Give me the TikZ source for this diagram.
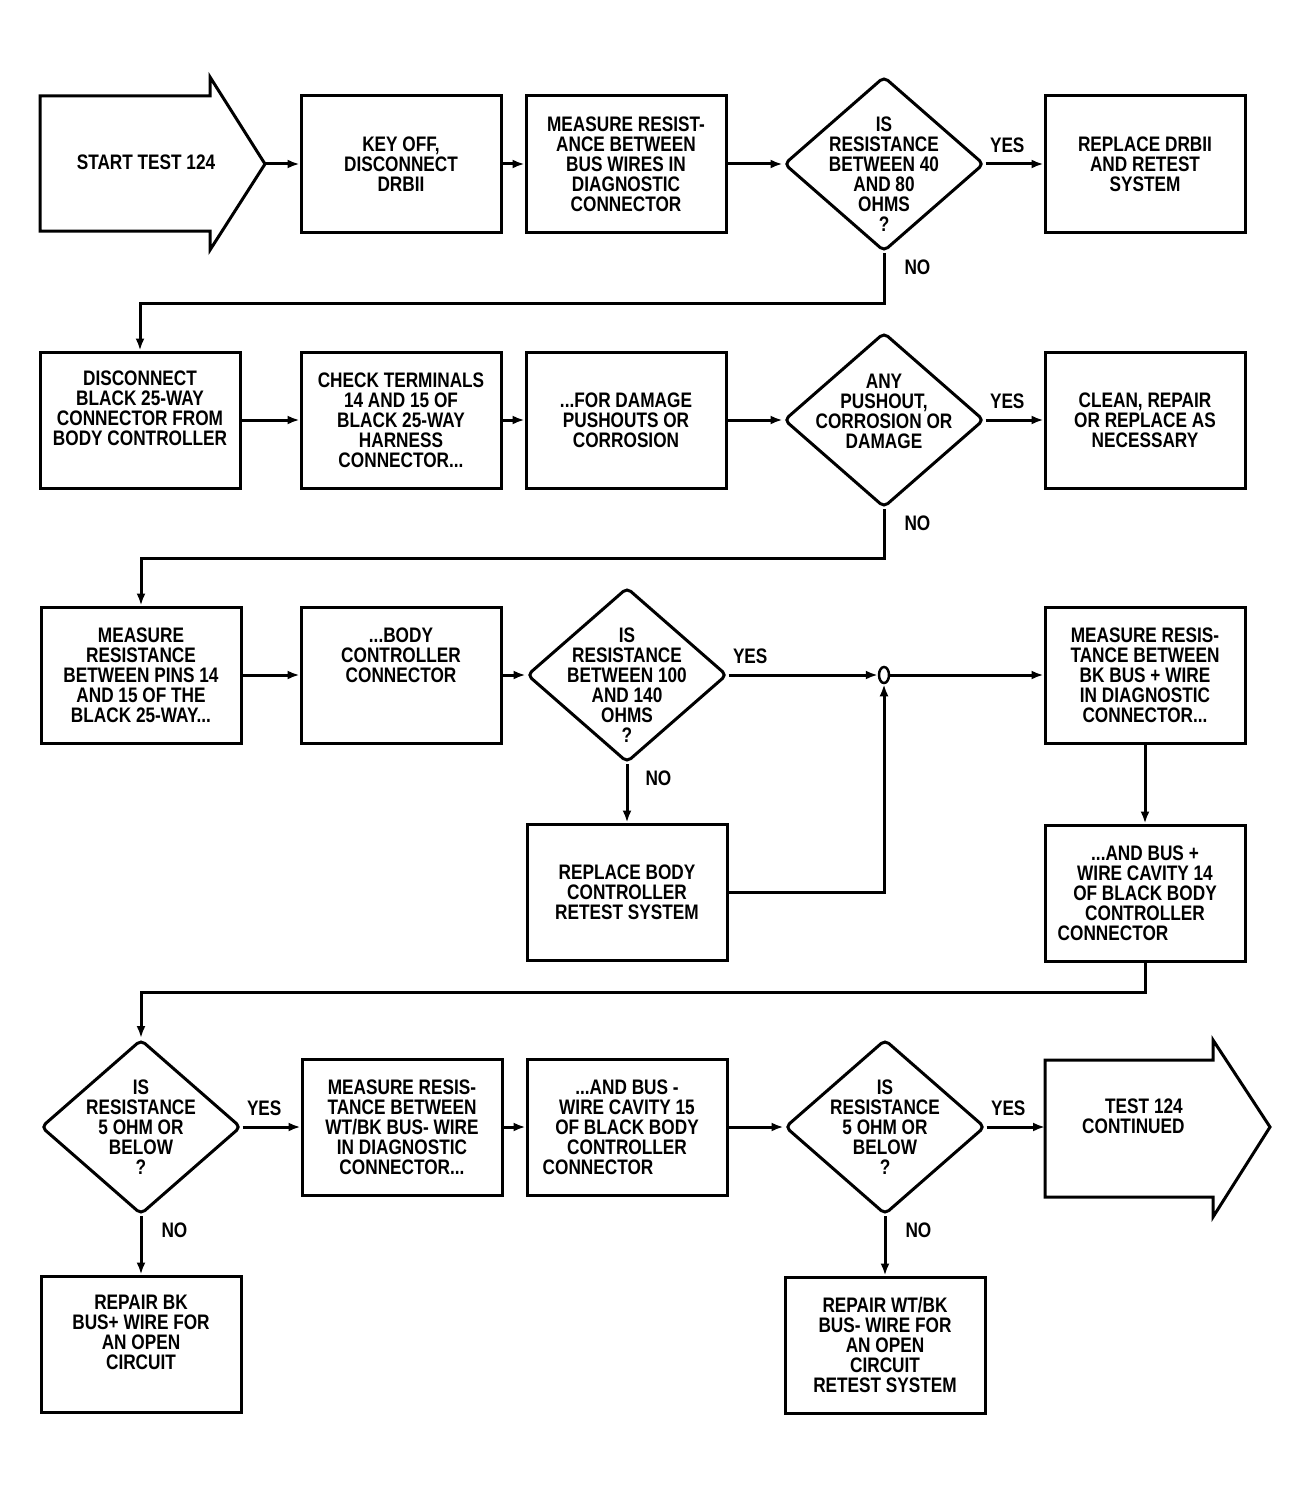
\documentclass[tikz,border=0pt]{standalone}
\usepackage{fontspec}
\setmainfont[FakeStretch=0.82]{Liberation Sans}
\usetikzlibrary{positioning,arrows.meta,shapes.geometric}

\tikzset{
  txt/.style={align=center, inner sep=0pt, font=\fontsize{21}{20}\selectfont\bfseries},
  procbox/.style={txt, draw, line width=3pt, minimum width=200pt, minimum height=136pt},
  decision/.style={diamond, draw, line width=3pt, rounded corners=5pt, inner sep=0pt,
    minimum width=200pt, minimum height=175pt},
  flow/.style={line width=3pt, -{Latex[length=12pt,width=9pt]}},
  lbl/.style={txt},
}

\begin{document}
\begin{tikzpicture}[x=1pt,y=-1pt]
    \useasboundingbox (0,0) rectangle (1307,1490);
    % row 1
    \draw[line width=3pt] (40,96) -- (210,96) -- (210,77) -- (265,164) coordinate (starttip)
        -- (210,250) -- (210,231) -- (40,231) -- cycle;
    \node[txt] (start) at (146,162) {START TEST 124};
    \node[procbox] (keyoff) at (401,164) {KEY OFF,\\DISCONNECT\\DRBII};
    \node[procbox] (measbus) at (626,164) {MEASURE RESIST-\\ANCE BETWEEN\\BUS WIRES IN\\DIAGNOSTIC\\CONNECTOR};
    \node[decision, label={[txt,yshift=-10pt]center:{IS\\RESISTANCE\\BETWEEN 40\\AND 80\\OHMS\\?}}] (ohms4080) at (884,164) {};
    \node[procbox] (replacedrb) at (1145,164) {REPLACE DRBII\\AND RETEST\\SYSTEM};
    % row 2
    \node[procbox, label={[txt,yshift=12pt]center:{DISCONNECT\\BLACK 25-WAY\\CONNECTOR FROM\\BODY CONTROLLER}}] (disc25) at (140,420) {};
    \node[procbox] (checkterm) at (401,420) {CHECK TERMINALS\\14 AND 15 OF\\BLACK 25-WAY\\HARNESS\\CONNECTOR...};
    \node[procbox] (damage) at (626,420) {...FOR DAMAGE\\PUSHOUTS OR\\CORROSION};
    \node[decision, label={[txt,yshift=9pt]center:{ANY\\PUSHOUT,\\CORROSION OR\\DAMAGE}}] (anydamage) at (884,420) {};
    \node[procbox] (cleanrep) at (1145,420) {CLEAN, REPAIR\\OR REPLACE AS\\NECESSARY};
    % row 3
    \node[procbox] (measpins) at (141,675) {MEASURE\\RESISTANCE\\BETWEEN PINS 14\\AND 15 OF THE\\BLACK 25-WAY...};
    \node[procbox, label={[txt,yshift=20pt]center:{...BODY\\CONTROLLER\\CONNECTOR}}] (bodyconn) at (401,675) {};
    \node[decision, label={[txt,yshift=-10pt]center:{IS\\RESISTANCE\\BETWEEN 100\\AND 140\\OHMS\\?}}] (ohms100) at (627,675) {};
    \node[draw, ellipse, line width=2.5pt, minimum width=10pt, minimum height=16pt, inner sep=0pt] (join) at (884,675) {};
    \node[procbox] (measbk) at (1145,675) {MEASURE RESIS-\\TANCE BETWEEN\\BK BUS + WIRE\\IN DIAGNOSTIC\\CONNECTOR...};
    \node[procbox] (replbody) at (627,892) {REPLACE BODY\\CONTROLLER\\RETEST SYSTEM};
    \node[procbox] (cavity14) at (1145,893) {...AND BUS +\\WIRE CAVITY 14\\OF BLACK BODY\\CONTROLLER\\CONNECTOR\hspace*{64pt}};
    % row 4
    \node[decision, label={[txt]center:{IS\\RESISTANCE\\5 OHM OR\\BELOW\\?}}] (ohm5a) at (141,1127) {};
    \node[procbox] (measwt) at (402,1127) {MEASURE RESIS-\\TANCE BETWEEN\\WT/BK BUS- WIRE\\IN DIAGNOSTIC\\CONNECTOR...};
    \node[procbox] (cavity15) at (627,1127) {...AND BUS -\\WIRE CAVITY 15\\OF BLACK BODY\\CONTROLLER\\CONNECTOR\hspace*{58pt}};
    \node[decision, label={[txt]center:{IS\\RESISTANCE\\5 OHM OR\\BELOW\\?}}] (ohm5b) at (885,1127) {};
    \draw[line width=3pt] (1045,1060) -- (1213,1060) -- (1213,1040) -- (1270,1127)
        -- (1213,1217) -- (1213,1197) -- (1045,1197) -- cycle;
    \coordinate (contin) at (1045,1127);
    \node[txt, align=left, anchor=west] (cont) at (1082,1116) {\hspace*{23pt}TEST 124\\CONTINUED};
    \node[procbox, label={[txt,yshift=12pt]center:{REPAIR BK\\BUS+ WIRE FOR\\AN OPEN\\CIRCUIT}}] (repbk) at (141,1344) {};
    \node[procbox] (repwt) at (885,1345) {REPAIR WT/BK\\BUS- WIRE FOR\\AN OPEN\\CIRCUIT\\RETEST SYSTEM};

    % connectors
    \draw[flow] (starttip) -- (keyoff.west);
    \draw[flow] (keyoff.east) -- (measbus.west);
    \draw[flow] (measbus.east) -- (ohms4080.west);
    \draw[flow] (ohms4080.east) node[lbl, anchor=south west, xshift=3pt, yshift=10pt] {YES} -- (replacedrb.west);
    \draw[flow] (ohms4080.south) node[lbl, anchor=north west, xshift=19pt, yshift=-5pt] {NO} -- ++(0,50) -| (disc25.north);
    \draw[flow] (disc25.east) -- (checkterm.west);
    \draw[flow] (checkterm.east) -- (damage.west);
    \draw[flow] (damage.east) -- (anydamage.west);
    \draw[flow] (anydamage.east) node[lbl, anchor=south west, xshift=3pt, yshift=10pt] {YES} -- (cleanrep.west);
    \draw[flow] (anydamage.south) node[lbl, anchor=north west, xshift=19pt, yshift=-5pt] {NO} -- ++(0,49) -| (measpins.north);
    \draw[flow] (measpins.east) -- (bodyconn.west);
    \draw[flow] (bodyconn.east) -- (ohms100.west);
    \draw[flow] (ohms100.east) node[lbl, anchor=south west, xshift=3pt, yshift=10pt] {YES} -- (join.west);
    \draw[flow] (join.east) -- (measbk.west);
    \draw[flow] (ohms100.south) node[lbl, anchor=north west, xshift=17pt, yshift=-5pt] {NO} -- (replbody.north);
    \draw[flow] (replbody.east) -| (join.south);
    \draw[flow] (measbk.south) -- (cavity14.north);
    \draw[flow] (cavity14.south) -- ++(0,30) -| (ohm5a.north);
    \draw[flow] (ohm5a.east) node[lbl, anchor=south west, xshift=3pt, yshift=10pt] {YES} -- (measwt.west);
    \draw[flow] (measwt.east) -- (cavity15.west);
    \draw[flow] (cavity15.east) -- (ohm5b.west);
    \draw[flow] (ohm5b.east) node[lbl, anchor=south west, xshift=3pt, yshift=10pt] {YES} -- (contin);
    \draw[flow] (ohm5a.south) node[lbl, anchor=north west, xshift=19pt, yshift=-5pt] {NO} -- (repbk.north);
    \draw[flow] (ohm5b.south) node[lbl, anchor=north west, xshift=19pt, yshift=-5pt] {NO} -- (repwt.north);
\end{tikzpicture}
\end{document}
